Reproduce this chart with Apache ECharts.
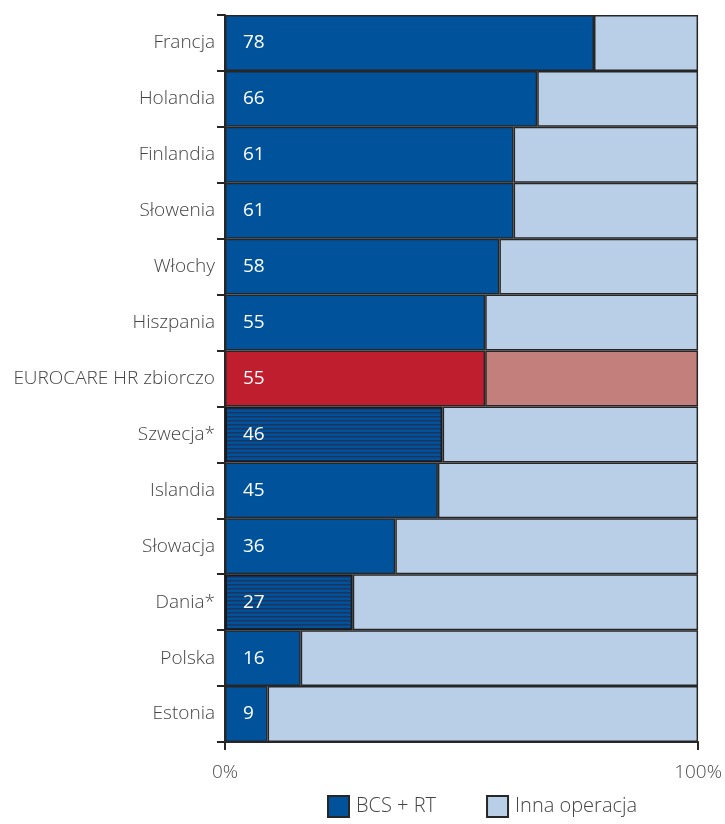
<!DOCTYPE html>
<html>
<head>
<meta charset="utf-8">
<script src="https://cdn.jsdelivr.net/npm/echarts@6/dist/echarts.min.js"></script>
<style>html,body{margin:0;padding:0;background:#fff;}#c{width:725px;height:824px;}</style>
</head>
<body>
<div id="c"></div>
<script>
const categories = ['Francja','Holandia','Finlandia','Słowenia','Włochy','Hiszpania','EUROCARE HR zbiorczo','Szwecja*','Islandia','Słowacja','Dania*','Polska','Estonia'];
const bcsRt = [78,66,61,61,58,55,55,46,45,36,27,16,9];
const inna = [22,34,39,39,42,45,45,54,55,64,73,84,91];
const xTicks = [0,100];
const highlight = 'EUROCARE HR zbiorczo';
const striped = ['Szwecja*','Dania*'];

const BLUE = '#00539b', LIGHT = '#b9cfe8', RED = '#be1e2d', PINK = '#c27f7b', EDGE = '#262626';

const pc = document.createElement('canvas');
pc.width = 4; pc.height = 4;
const px = pc.getContext('2d');
px.fillStyle = BLUE; px.fillRect(0,0,4,4);
px.fillStyle = '#1b3563'; px.fillRect(0,0,4,1.6);

const chart = echarts.init(document.getElementById('c'), null, {renderer:'canvas'});
const font = '"Open Sans", "Noto Sans", sans-serif';

const bcsData = bcsRt.map((v,i) => {
  const c = categories[i];
  if (c === highlight) return {value:v, itemStyle:{color:RED}};
  if (striped.includes(c)) return {value:v, itemStyle:{color:{image:pc, repeat:'repeat'}, borderColor:'#1a1a1a', borderWidth:2}};
  return v;
});
const innaData = inna.map((v,i) => categories[i] === highlight ? {value:v, itemStyle:{color:PINK}} : v);

chart.setOption({
  animation:false,
  textStyle:{fontFamily:font},
  grid:{left:225, right:25, top:15, bottom:82},
  xAxis:{type:'value', min:0, max:100, interval:100,
    axisLine:{show:true, lineStyle:{color:EDGE, width:2}},
    axisTick:{show:true, length:8, lineStyle:{color:EDGE, width:2}},
    splitLine:{show:false},
    axisLabel:{formatter:v => xTicks.includes(v) ? v + '%' : '', fontSize:19, fontWeight:300, color:'#4a4a4a', margin:21, fontFamily:font}},
  yAxis:{type:'category', data:categories, inverse:true,
    axisLine:{show:true, lineStyle:{color:EDGE, width:2}},
    axisTick:{show:true, length:8, lineStyle:{color:EDGE, width:2}},
    axisLabel:{fontSize:19, fontWeight:300, color:'#444', margin:10, fontFamily:font}},
  legend:{bottom:1, left:322, itemWidth:21, itemHeight:21, itemGap:50, icon:'rect',
    textStyle:{fontSize:20, fontWeight:300, color:'#444', fontFamily:font, padding:[0,0,0,2]},
    data:['BCS + RT','Inna operacja']},
  series:[
    {name:'BCS + RT', type:'bar', stack:'s', barWidth:'100%', data:bcsData,
      itemStyle:{color:BLUE, borderColor:EDGE, borderWidth:1.5},
      label:{show:true, position:'insideLeft', distance:18, color:'#fff', fontSize:19, fontFamily:font}},
    {name:'Inna operacja', type:'bar', stack:'s', barWidth:'100%', data:innaData,
      itemStyle:{color:LIGHT, borderColor:EDGE, borderWidth:1.5}}
  ]
});
</script>
</body>
</html>
